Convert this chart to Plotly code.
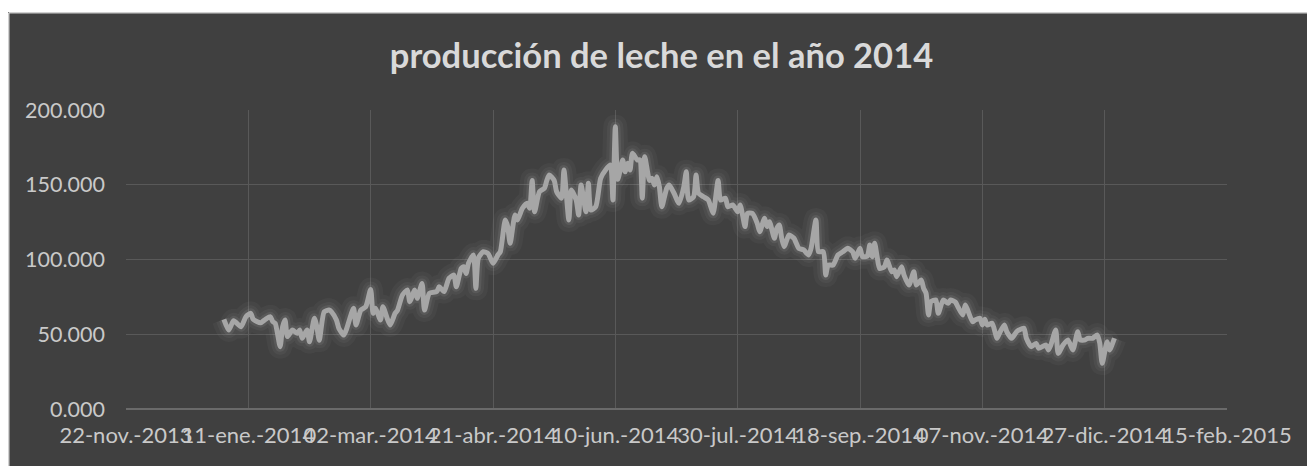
import pandas as pd
import plotly.graph_objects as go

# Day offset from 1 Jan 2014 and milk production
day_offset = [0, 2, 4, 7, 9, 11, 12, 15, 17, 19, 20, 21, 23, 24, 25, 26, 28, 30, 31, 32,
              34, 35, 37, 38, 39, 41, 43, 44, 46, 47, 49, 50, 53, 54, 56, 58, 60, 61, 62, 64,
              65, 67, 68, 70, 71, 73, 75, 76, 78, 79, 81, 82, 84, 87, 88, 90, 92, 94, 95, 97,
              98, 99, 100, 102, 103, 104, 106, 108, 110, 112, 113, 115, 116, 117, 119, 120, 122, 124, 125, 126,
              127, 129, 131, 132, 133, 135, 136, 138, 139, 141, 142, 144, 145, 146, 148, 149, 150, 152, 154, 156,
              158, 159, 160, 161, 163, 164, 165, 166, 167, 169, 170, 171, 172, 174, 175, 176, 177, 178, 179, 181,
              182, 184, 186, 188, 189, 190, 192, 193, 194, 196, 198, 199, 200, 202, 203, 205, 206, 208, 210, 211,
              212, 213, 214, 216, 218, 219, 221, 222, 223, 225, 226, 227, 228, 229, 231, 233, 235, 237, 239, 240,
              242, 243, 245, 246, 247, 249, 251, 253, 255, 257, 258, 260, 261, 263, 264, 265, 266, 267, 268, 270,
              271, 273, 274, 275, 277, 278, 280, 282, 283, 285, 286, 287, 288, 289, 291, 292, 294, 296, 297, 299,
              300, 302, 303, 304, 306, 307, 309, 310, 311, 312, 314, 316, 317, 319, 320, 322, 324, 325, 327, 328,
              330, 332, 333, 336, 337, 338, 340, 341, 343, 345, 347, 349, 350, 352, 353, 355, 357, 358, 359, 361,
              362, 364]
production = [60, 52.8, 59, 55, 61.7, 64, 60, 57.7, 60, 61.7, 58.4, 57.3, 41.7, 55, 59.5, 48.4, 52.8, 50.6, 52.8, 47.3,
              52.8, 45, 60.7, 55, 46, 65, 66.2, 65, 59.5, 54, 49.5, 52.8, 67.4, 56.2, 66.2, 68.4, 80, 64, 67.4, 59.5,
              68.4, 59.5, 56.2, 64, 66.2, 76.3, 79.6, 71.8, 79.6, 74, 84, 66.2, 77.4, 78.5, 81.8, 78.5, 87.4, 89.6, 81.8, 94,
              95.2, 90.7, 97.5, 103, 80.7, 100.8, 105.2, 104, 97.5, 103, 105.2, 126.4, 122, 110.8, 129.8, 126.4, 134.2, 137.6, 134.2, 152.9,
              132, 145.4, 147.6, 152.9, 156.5, 152.9, 145.4, 141, 159.9, 126.4, 146.5, 139.8, 129.8, 149.8, 132, 151, 133.1, 135.3, 154.3, 159.9,
              163.2, 139.8, 188.8, 153.6, 166.6, 158.7, 164.3, 159.9, 171, 166.6, 166.6, 141, 168.8, 152.9, 154.3, 149.8, 155.4, 148.7, 135.3, 147.6,
              149.8, 144.3, 137.6, 148.7, 158.7, 139.8, 142, 156.5, 144.3, 142, 139.8, 135.3, 130.9, 152.9, 139.8, 141, 135.3, 136.5, 132, 136.5,
              129.8, 122, 130.9, 130.9, 124.2, 118.6, 127.6, 122, 125.3, 114.2, 120.9, 123.1, 114.2, 108.6, 116.4, 114.2, 107.5, 106.4, 103, 107.5,
              126.4, 105.2, 105.2, 89.6, 96.3, 96.3, 103, 105.2, 107.5, 105.2, 100.8, 107.5, 101.9, 102.3, 109.7, 101.9, 110.8, 101.9, 94, 95.2,
              99.7, 91.8, 93, 88.5, 95.2, 89.6, 82.9, 91.8, 82.9, 86.3, 80.7, 77.4, 62.9, 71.8, 72.9, 64, 72.9, 70.7, 72.9, 71.5,
              68.4, 62.9, 69.6, 66.2, 58.4, 59.5, 60.7, 56.2, 60, 56.2, 57.3, 47.3, 50.6, 56.2, 51.7, 47.3, 51.7, 52.8, 54, 47.3,
              41.7, 43.9, 40.6, 42.8, 39.5, 42.8, 52.8, 37.2, 42.8, 46.2, 39.5, 51.7, 46.2, 46.2, 47.3, 47.3, 49.5, 43.9, 30.6, 45,
              39.5, 47.3]

x_tick_dates = ["2013-11-22", "2014-01-11", "2014-03-02", "2014-04-21", "2014-06-10",
                "2014-07-30", "2014-09-18", "2014-11-07", "2014-12-27", "2015-02-15"]
x_tick_labels = ["22-nov.-2013", "11-ene.-2014", "02-mar.-2014", "21-abr.-2014", "10-jun.-2014",
                 "30-jul.-2014", "18-sep.-2014", "07-nov.-2014", "27-dic.-2014", "15-feb.-2015"]
y_tick_vals = [0, 50, 100, 150, 200]
y_tick_labels = ["0.000", "50.000", "100.000", "150.000", "200.000"]

title_text = "producción de leche en el año 2014"

dates = pd.Timestamp("2014-01-01") + pd.to_timedelta(day_offset, unit="D")

BG = "#404040"
GRID = "#595959"
LINE = "#a6a6a6"
TXT = "#c9c9c9"

W, H = 1315, 466
ML, MT, PW, PH = 118, 102, 1101, 299   # page body adds an 8px offset
MR = W - ML - PW
MB = H - MT - PH

fig = go.Figure()
# soft glow beneath the line
for w, a in [(24, 0.03), (16, 0.045), (10, 0.07)]:
    fig.add_trace(go.Scatter(x=dates, y=production, mode="lines",
                             line=dict(color=f"rgba(255,255,255,{a})", width=w, shape="spline", smoothing=0.6),
                             hoverinfo="skip", showlegend=False))
fig.add_trace(go.Scatter(x=dates, y=production, mode="lines",
                         line=dict(color=LINE, width=5, shape="spline", smoothing=0.6),
                         showlegend=False))

px_x = lambda fx: (fx - ML) / PW
px_y = lambda fy: (MT + PH - fy) / PH

fig.update_layout(
    width=W, height=H,
    margin=dict(l=ML, r=MR, t=MT, b=MB),
    paper_bgcolor=BG, plot_bgcolor=BG,
    title=dict(text=f"<b>{title_text}</b>", x=653.5 / W, xref="container", xanchor="center",
               y=1 - 48 / H, yref="container", yanchor="middle",
               font=dict(family="Lato", size=34.5, color="#d9d9d9")),
    font=dict(family="Lato", color=TXT),
    xaxis=dict(type="date", range=[x_tick_dates[0], x_tick_dates[-1]],
               tickmode="array", tickvals=x_tick_dates, ticktext=x_tick_labels,
               showgrid=True, gridcolor=GRID, gridwidth=1,
               showline=False, zeroline=False, ticks="",
               tickfont=dict(family="Lato", size=22, color=TXT), tickangle=0,
               ticklabelstandoff=11),
    yaxis=dict(range=[0, 200], tickmode="array", tickvals=y_tick_vals, ticktext=y_tick_labels,
               showgrid=True, gridcolor=GRID, gridwidth=1,
               zeroline=True, zerolinecolor="#6a6a6a", zerolinewidth=1.5,
               showline=False, ticks="",
               tickfont=dict(family="Lato", size=21.5, color=TXT),
               ticklabelstandoff=20),
    shapes=[
        dict(type="rect", xref="paper", yref="paper", x0=-0.2, x1=1.2, y0=px_y(4), y1=1.6,
             fillcolor="white", line=dict(width=0), layer="above"),
        dict(type="line", xref="paper", yref="paper", x0=px_x(0.75), x1=px_x(0.75),
             y0=-0.3, y1=px_y(4.75), line=dict(color="#d0d0d0", width=1.5), layer="above"),
        dict(type="line", xref="paper", yref="paper", x0=px_x(0.75), x1=1.2,
             y0=px_y(4.75), y1=px_y(4.75), line=dict(color="#d0d0d0", width=1.5), layer="above"),
    ],
)

fig.write_html("out.html")
